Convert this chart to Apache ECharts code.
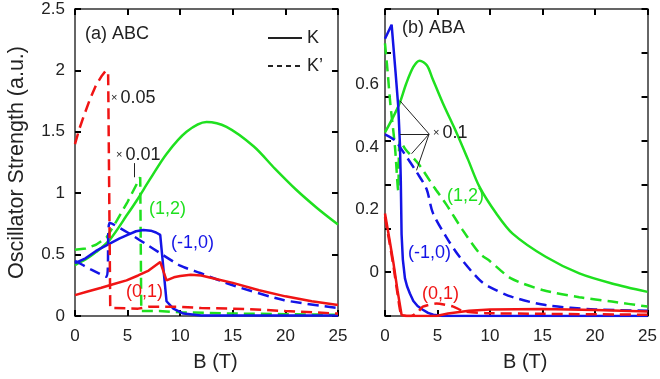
<!DOCTYPE html>
<html>
<head>
<meta charset="utf-8">
<script src="https://cdn.jsdelivr.net/npm/echarts@6/dist/echarts.min.js"></script>
<style>
  html, body { margin: 0; padding: 0; background: #fff; }
  #chart { width: 660px; height: 379px; }
</style>
</head>
<body>
<div id="chart"></div>
<script>
// ---- data, panel (a) ABC ----
const aGreenK = [[0,0.415],[1,0.46],[2,0.52],[3.3,0.62],[5,0.83],[5.9,0.945],[7.1,1.11],[8.7,1.32],[10.6,1.50],[12.5,1.58],[14.4,1.54],[17,1.38],[19,1.20],[21,1.03],[23,0.88],[25,0.745]];
const aGreenKp = [[0,0.54],[1,0.55],[2,0.58],[3,0.64],[4,0.78],[5,0.93],[5.6,1.03],[6.2,1.13],[6.3,0.04],[8,0.04],[10,0.03],[15,0.02],[20,0.015],[25,0.01]];
const aBlueK = [[0,0.43],[1,0.47],[2,0.53],[3.3,0.59],[4.2,0.63],[5,0.66],[5.8,0.69],[6.5,0.70],[7.2,0.695],[7.7,0.68],[8.1,0.66],[8.7,0.12],[9.35,0.06],[10.3,0.02],[12,0.005],[15,0.005],[20,0.005],[25,0.005]];
const aBlueKp = [[0,0.45],[1.5,0.38],[3.0,0.32],[3.3,0.76],[5,0.68],[7.4,0.55],[10,0.41],[11.9,0.35],[15,0.25],[19.8,0.13],[25,0.065]];
const aRedK = [[0,0.17],[1.2,0.20],[2.5,0.23],[3.7,0.26],[4.9,0.29],[6,0.33],[7,0.37],[8.1,0.44],[8.7,0.29],[9.4,0.315],[10,0.325],[11,0.335],[12,0.33],[13.5,0.30],[15,0.27],[17.5,0.21],[20,0.16],[22.5,0.12],[25,0.09]];
const aRedKp = [[0,1.4],[0.4,1.52],[0.8,1.62],[1.4,1.76],[2,1.88],[2.5,1.95],[2.95,2.0],[3.15,1.98],[3.35,0.065],[6,0.06],[7,0.075],[10,0.075],[12,0.065],[15,0.06],[18,0.05],[20,0.04],[25,0.02]];

// ---- data, panel (b) ABA ----
const bGreenK = [[0,0.446],[0.7,0.49],[1.4,0.54],[2,0.60],[2.7,0.655],[3.3,0.675],[4,0.66],[4.5,0.62],[5.5,0.54],[6.8,0.446],[7.9,0.36],[9,0.272],[10.6,0.187],[12.15,0.123],[15.3,0.049],[18.5,-0.004],[21.6,-0.036],[25,-0.063]];
const bGreenKp = [[0,0.73],[0.25,0.64],[0.5,0.54],[0.95,0.40],[1.26,0.26],[1.42,0.42],[2,0.39],[3.2,0.345],[4.7,0.27],[5.8,0.218],[7.4,0.134],[9,0.06],[10,0.035],[12,-0.02],[15,-0.057],[18.5,-0.08],[21.6,-0.094],[25,-0.11]];
const bBlueK = [[0,0.745],[0.63,0.79],[1.0,0.64],[1.26,0.53],[1.42,0.41],[1.5,0.30],[1.58,0.12],[1.7,0.04],[1.9,-0.02],[2.1,-0.045],[2.37,-0.068],[2.7,-0.092],[3.1,-0.108],[3.6,-0.12],[4.1,-0.13],[4.6,-0.136],[5.5,-0.14],[25,-0.14]];
const bBlueKp = [[0,0.44],[1.0,0.42],[1.4,0.40],[2.1,0.366],[3.0,0.32],[3.95,0.266],[4.55,0.19],[5.84,0.112],[7.1,0.049],[9,-0.025],[9.94,-0.047],[12.1,-0.079],[15.3,-0.105],[20,-0.119],[25,-0.123]];
const bRedK = [[0,0.187],[0.4,0.11],[0.8,0.03],[1.2,-0.06],[1.58,-0.137],[2,-0.14],[3.5,-0.14],[4.9,-0.14],[6,-0.132],[8,-0.123],[10,-0.119],[15,-0.118],[20,-0.121],[25,-0.126]];
const bRedKp = [[0,0.175],[0.4,0.10],[0.8,0.02],[1.2,-0.07],[1.6,-0.138],[2.5,-0.14],[3.2,-0.125],[3.6,-0.11],[4.9,-0.10],[6.5,-0.11],[7.5,-0.125],[9.6,-0.131],[15,-0.133],[25,-0.136]];

// axis ticks / labels
const xTickStep = 5;
const aYMax = 2.5, aYStep = 0.5;
const bYTicks = [-0.14, 0, 0.14, 0.28, 0.42, 0.56, 0.70, 0.84];
const bYLabels = [0, 0.2, 0.4, 0.6];

// annotation arrows (data coords)
const aArrows = [[[5.6, 1.245], [5.6, 1.13]]];
const bArrows = [[[4.2, 0.441], [1.42, 0.547]], [[4.2, 0.441], [1.42, 0.441]], [[4.2, 0.441], [2.53, 0.378]], [[4.2, 0.441], [3.0, 0.325]]];

const GREEN = '#1fe01f', BLUE = '#1414e6', RED = '#f01414';
const FONT = 'Liberation Sans, Arial, sans-serif';
const DASH = [11, 6];

var myChart = echarts.init(document.getElementById('chart'));

function xAxes(grid) {
  return [{
    gridIndex: grid, type: 'value', min: 0, max: 25, interval: xTickStep,
    name: 'B (T)', nameLocation: 'middle', nameGap: 36,
    nameTextStyle: { fontSize: 20, color: '#222', fontFamily: FONT, padding: [0, 0, 0, 18] },
    axisLine: { onZero: false, lineStyle: { color: '#333', width: 1.5 } },
    axisTick: { inside: true, length: 6, lineStyle: { color: '#000', width: 2 } },
    axisLabel: { fontSize: 17, color: '#222', fontFamily: FONT, margin: 12 },
    splitLine: { show: false }
  }, {
    gridIndex: grid, type: 'value', min: 0, max: 25, interval: xTickStep, position: 'top',
    axisLine: { onZero: false, lineStyle: { color: '#333', width: 1.5 } },
    axisTick: { inside: true, length: 6, lineStyle: { color: '#000', width: 2 } },
    axisLabel: { show: false }, splitLine: { show: false }
  }];
}

function line(name, data, color, dashed, xi, yi, smooth) {
  return {
    name: name, type: 'line', xAxisIndex: xi, yAxisIndex: yi, data: data,
    symbol: 'none', smooth: smooth, color: color,
    lineStyle: { width: 2.5, color: color, type: dashed ? DASH : 'solid' },
    z: 3
  };
}

function arrows(list, xi, yi) {
  return {
    type: 'line', xAxisIndex: xi, yAxisIndex: yi, data: [], silent: true,
    markLine: {
      silent: true, symbol: ['none', 'arrow'], symbolSize: [0, 7],
      label: { show: false },
      lineStyle: { color: '#222', width: 1, type: 'solid' },
      emphasis: { disabled: true },
      data: list.map(function (p) { return [{ coord: p[0] }, { coord: p[1] }]; })
    }
  };
}

function txt(x, y, text, color, size, extra) {
  var st = { text: text, fill: color, fontSize: size || 18, fontFamily: FONT, verticalAlign: 'middle' };
  if (extra) Object.assign(st, extra);
  return { type: 'text', x: x, y: y, style: st, z: 10 };
}
var small = { rich: { s: { fontSize: 11, fill: '#222', fontFamily: FONT, padding: [0, 3, 0, 0] } } };

const option = {
  animation: false,
  grid: [
    { left: 75, top: 9, width: 263, height: 307 },
    { left: 385, top: 9, width: 264, height: 307 }
  ],
  xAxis: xAxes(0).concat(xAxes(1)),
  yAxis: [{
    gridIndex: 0, type: 'value', min: 0, max: aYMax, interval: aYStep,
    name: 'Oscillator Strength (a.u.)', nameLocation: 'middle', nameGap: 47,
    nameTextStyle: { fontSize: 21.5, color: '#222', fontFamily: FONT },
    axisLine: { onZero: false, lineStyle: { color: '#333', width: 1.5 } },
    axisTick: { inside: true, length: 6, lineStyle: { color: '#000', width: 2 } },
    axisLabel: { fontSize: 17, color: '#222', fontFamily: FONT, margin: 10 },
    splitLine: { show: false }
  }, {
    gridIndex: 0, type: 'value', min: 0, max: aYMax, interval: aYStep, position: 'right',
    axisLine: { onZero: false, lineStyle: { color: '#333', width: 1.5 } },
    axisTick: { inside: true, length: 6, lineStyle: { color: '#000', width: 2 } },
    axisLabel: { show: false }, splitLine: { show: false }
  }, {
    gridIndex: 1, type: 'value', min: bYTicks[0], max: bYTicks[bYTicks.length - 1],
    axisLine: { onZero: false, lineStyle: { color: '#333', width: 1.5 } },
    axisTick: { inside: true, length: 6, customValues: bYTicks, lineStyle: { color: '#000', width: 2 } },
    axisLabel: { fontSize: 17, color: '#222', fontFamily: FONT, margin: 6, customValues: bYLabels },
    splitLine: { show: false }
  }, {
    gridIndex: 1, type: 'value', min: bYTicks[0], max: bYTicks[bYTicks.length - 1], position: 'right',
    axisLine: { onZero: false, lineStyle: { color: '#333', width: 1.5 } },
    axisTick: { inside: true, length: 6, customValues: bYTicks, lineStyle: { color: '#000', width: 2 } },
    axisLabel: { show: false }, splitLine: { show: false }
  }],
  legend: {
    data: ['K', 'K\u2019'], orient: 'vertical', left: 262, top: 24,
    itemWidth: 34, itemHeight: 14, itemGap: 10,
    itemStyle: { opacity: 0 },
    textStyle: { fontSize: 18, color: '#222', fontFamily: FONT }
  },
  series: [
    { name: 'K', type: 'line', data: [], symbol: 'none', color: '#222', itemStyle: { opacity: 0 }, lineStyle: { width: 1.5, color: '#222' } },
    { name: 'K\u2019', type: 'line', data: [], symbol: 'none', color: '#222', itemStyle: { opacity: 0 }, lineStyle: { width: 1.5, color: '#222', type: [5, 4] } },
    line('a green K', aGreenK, GREEN, false, 0, 0, 0.3),
    line('a green K\u2019', aGreenKp, GREEN, true, 0, 0, 0),
    line('a blue K', aBlueK, BLUE, false, 0, 0, 0),
    line('a blue K\u2019', aBlueKp, BLUE, true, 0, 0, 0.2),
    line('a red K', aRedK, RED, false, 0, 0, 0),
    line('a red K\u2019', aRedKp, RED, true, 0, 0, 0),
    line('b green K', bGreenK, GREEN, false, 2, 2, 0.3),
    line('b green K\u2019', bGreenKp, GREEN, true, 2, 2, 0.25),
    line('b blue K', bBlueK, BLUE, false, 2, 2, 0),
    line('b blue K\u2019', bBlueKp, BLUE, true, 2, 2, 0.3),
    line('b red K', bRedK, RED, false, 2, 2, 0),
    line('b red K\u2019', bRedKp, RED, true, 2, 2, 0.2),
    arrows(aArrows, 0, 0),
    arrows(bArrows, 2, 2)
  ],
  graphic: [
    txt(85, 34, '(a) ABC', '#222', 18),
    txt(111, 98, '{s|\u00d7}0.05', '#222', 18, small),
    txt(116, 155, '{s|\u00d7}0.01', '#222', 18, small),
    txt(149, 209, '(1,2)', GREEN, 18),
    txt(171, 243, '(-1,0)', BLUE, 18),
    txt(126, 292, '(0,1)', RED, 18),
    txt(402, 28, '(b) ABA', '#222', 18),
    txt(433, 133, '{s|\u00d7}0.1', '#222', 18, small),
    txt(447, 196, '(1,2)', GREEN, 18),
    txt(408, 253, '(-1,0)', BLUE, 18),
    txt(422, 294, '(0,1)', RED, 18)
  ]
};

myChart.setOption(option);
</script>
</body>
</html>
